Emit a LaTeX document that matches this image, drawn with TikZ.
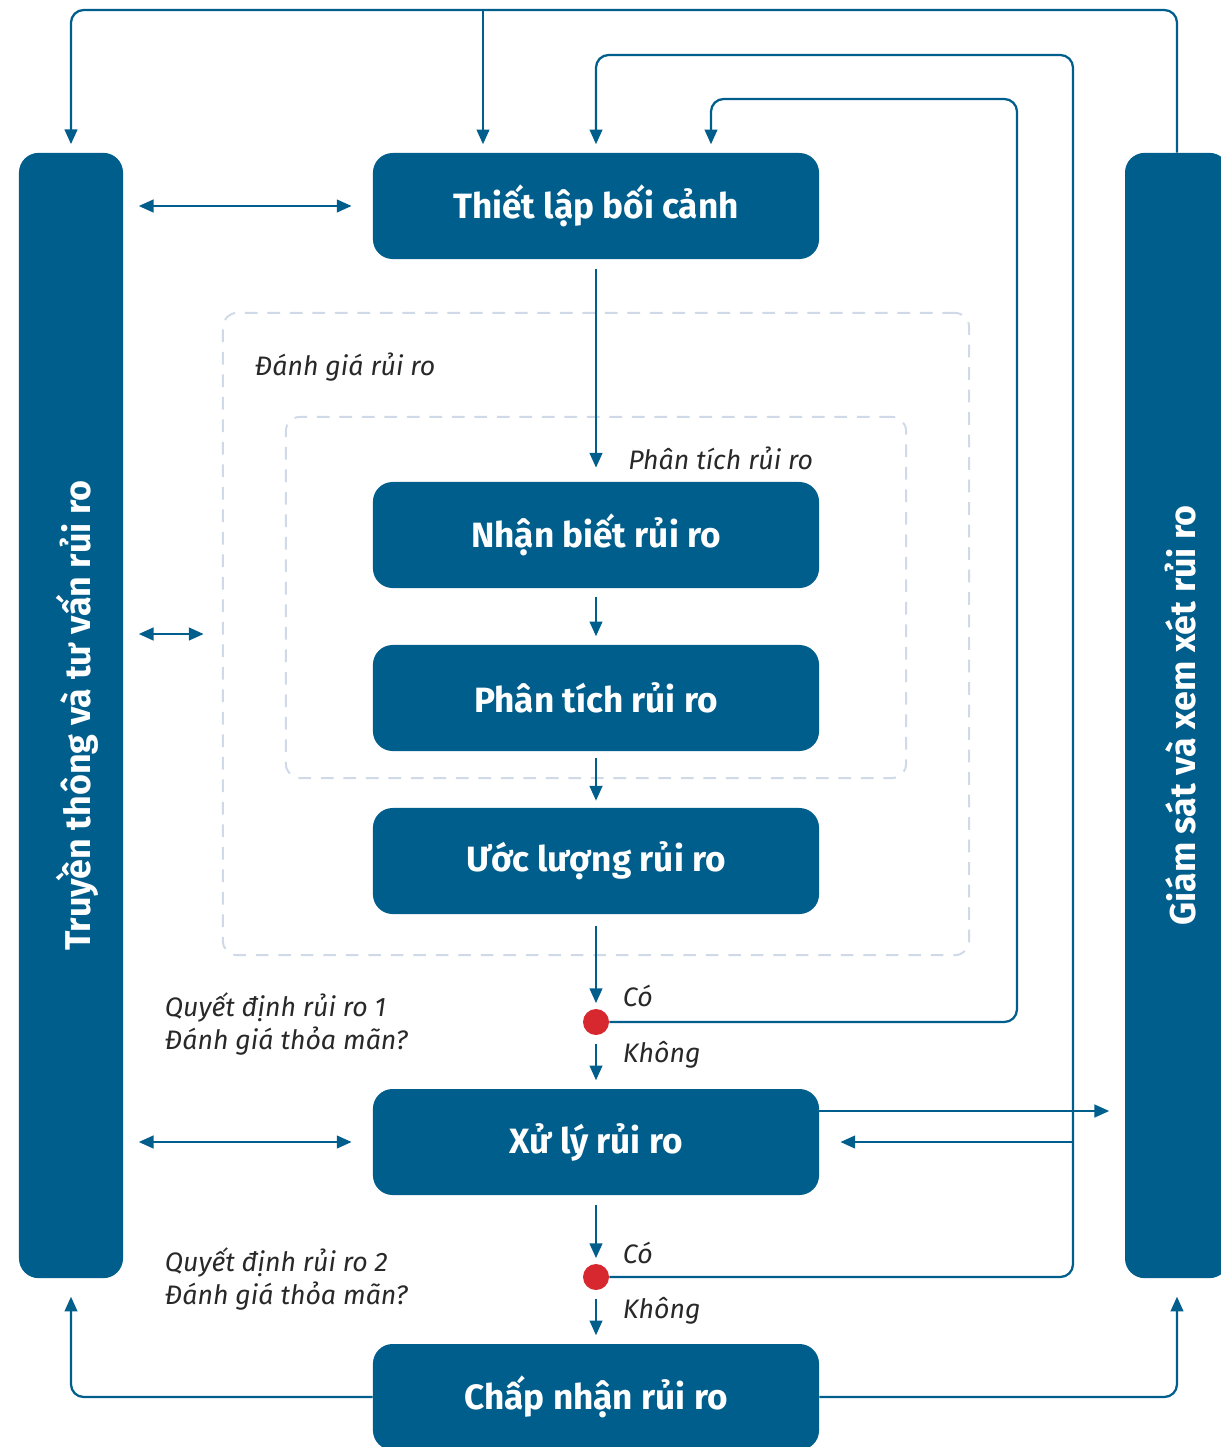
\documentclass[tikz,border=0pt]{standalone}
\usepackage{fontspec}
\setmainfont{Fira Sans}
\usepackage{tikz}
\usetikzlibrary{shapes, arrows.meta, positioning, calc}
\definecolor{riskblue}{RGB}{0, 94, 140}
\definecolor{decisionred}{RGB}{215, 40, 47}
\definecolor{dashgray}{RGB}{208, 217, 232}
\definecolor{labelgray}{RGB}{40, 40, 40}
\tikzset{
  >=Triangle,
  flow/.style={-{Triangle[length=10.5pt, width=9pt]}, line width=1.6pt, riskblue},
  dflow/.style={{Triangle[length=10.5pt, width=9pt]}-{Triangle[length=10.5pt, width=9pt]}, line width=1.6pt, riskblue},
  link/.style={line width=1.6pt, riskblue, rounded corners=9pt},
  gap/.style={shorten <=6pt, shorten >=6pt}
}
\tikzset{
  stepbox/.style={rectangle, rounded corners=14pt, fill=riskblue, minimum width=11.15cm, minimum height=2.65cm, text=white, font=\fontsize{25}{28}\selectfont\bfseries},
  sidebar/.style={rectangle, rounded corners=14pt, fill=riskblue, minimum width=2.6cm, minimum height=28.125cm},
  bartext/.style={rotate=90, text=white, font=\fontsize{25.5}{28}\selectfont\bfseries},
  dashbox/.style={rectangle, draw=dashgray, line width=1.4pt, dash pattern=on 9pt off 7pt, rounded corners=10pt},
  decision/.style={circle, fill=decisionred, minimum size=0.65cm, inner sep=0pt},
  note/.style={font=\fontsize{19}{24}\selectfont\itshape, text=labelgray, align=left}
}
\begin{document}
\begin{tikzpicture}[x=0.025cm, y=-0.025cm]
    \useasboundingbox (0,0) rectangle (1221,1447);

    % dashed frames for the assessment part
    \node[dashbox, minimum width=18.65cm, minimum height=16.05cm] (danhgia) at (596,634) {};
    \node[dashbox, minimum width=15.5cm, minimum height=9.025cm] (phantichframe) at (596,597.5) {};
    \node[note, anchor=west] (danhgialbl) at (250,367) {Đánh giá rủi ro};
    \node[note, anchor=east] (phantichlbl) at (818,458) {Phân tích rủi ro};

    % side bars
    \node[sidebar] (truyenthong) at (71,715.5) {};
    \node[bartext] at ($(truyenthong)+(6,0)$) {Truyền thông và tư vấn rủi ro};
    \node[sidebar] (giamsat) at (1177,715.5) {};
    \node[bartext] at ($(giamsat)+(4,0)$) {Giám sát và xem xét rủi ro};

    % main steps
    \node[stepbox] (thietlap) at (596,206) {Thiết lập bối cảnh};
    \node[stepbox] (nhanbiet) at (596,535) {Nhận biết rủi ro};
    \node[stepbox] (phantich) at (596,698) {Phân tích rủi ro};
    \node[stepbox] (uocluong) at (596,861) {Ước lượng rủi ro};
    \node[stepbox] (xuly) at (596,1142) {Xử lý rủi ro};
    \node[stepbox] (chapnhan) at (596,1397) {Chấp nhận rủi ro};

    % decision points
    \node[decision] (quyetdinh1) at (596,1022) {};
    \node[decision] (quyetdinh2) at (596,1277) {};
    \node[note, anchor=west] (qd1text) at (160,1024) {Quyết định rủi ro 1\\Đánh giá thỏa mãn?};
    \node[note, anchor=west] (qd2text) at (160,1279) {Quyết định rủi ro 2\\Đánh giá thỏa mãn?};
    \node[note, anchor=west] (co1) at (618,996) {Có};
    \node[note, anchor=west] (khong1) at (618,1055) {Không};
    \node[note, anchor=west] (co2) at (618,1253) {Có};
    \node[note, anchor=west] (khong2) at (618,1311) {Không};

    % vertical flow
    \draw[flow, shorten <=7pt, shorten >=10pt] (thietlap) -- (nhanbiet);
    \draw[flow, gap] (nhanbiet) -- (phantich);
    \draw[flow, shorten <=5pt, shorten >=5pt] (phantich) -- (uocluong);
    \draw[flow, shorten <=8pt, shorten >=4pt] (uocluong) -- (quyetdinh1);
    \draw[flow, gap] (quyetdinh1) -- (xuly);
    \draw[flow, shorten <=7pt, shorten >=4pt] (xuly) -- (quyetdinh2);
    \draw[flow, gap] (quyetdinh2) -- (chapnhan);

    % feedback loops from the decisions
    \draw[link, -{Triangle[length=10.5pt, width=9pt]}, shorten >=6pt] (quyetdinh1.east) -| (1017,99) -| ($(thietlap.north)+(115,0)$);
    \draw[link, -{Triangle[length=10.5pt, width=9pt]}, shorten >=6pt] (quyetdinh2.east) -| (1073,55) -| (thietlap.north);
    \coordinate (trvao) at (1073,1142);
    \draw[flow, shorten >=15pt] (trvao) -- (xuly.east);
    \draw[flow, shorten >=11pt] (xuly.east |- 0,1111) -- (giamsat.west |- 0,1111);

    % monitoring loop along the top
    \draw[link, -{Triangle[length=10.5pt, width=9pt]}, shorten >=6pt] (giamsat.north) |- (truyenthong.north |- 0,10) -- (truyenthong.north);
    \coordinate (nhanh) at (483,10);
    \draw[flow, shorten >=6pt] (nhanh) -- (nhanh |- thietlap.north);

    % communication links
    \draw[dflow, shorten <=11pt, shorten >=15pt] (truyenthong.east |- thietlap) -- (thietlap.west);
    \draw[dflow, shorten <=11pt, shorten >=13pt] (truyenthong.east |- danhgia) -- (danhgia.west);
    \draw[dflow, shorten <=11pt, shorten >=15pt] (truyenthong.east |- xuly) -- (xuly.west);

    % acceptance back to both bars
    \draw[link, -{Triangle[length=10.5pt, width=9pt]}, shorten >=13pt] (chapnhan.west) -| (truyenthong.south);
    \draw[link, -{Triangle[length=10.5pt, width=9pt]}, shorten >=13pt] (chapnhan.east) -| (giamsat.south);
\end{tikzpicture}
\end{document}
